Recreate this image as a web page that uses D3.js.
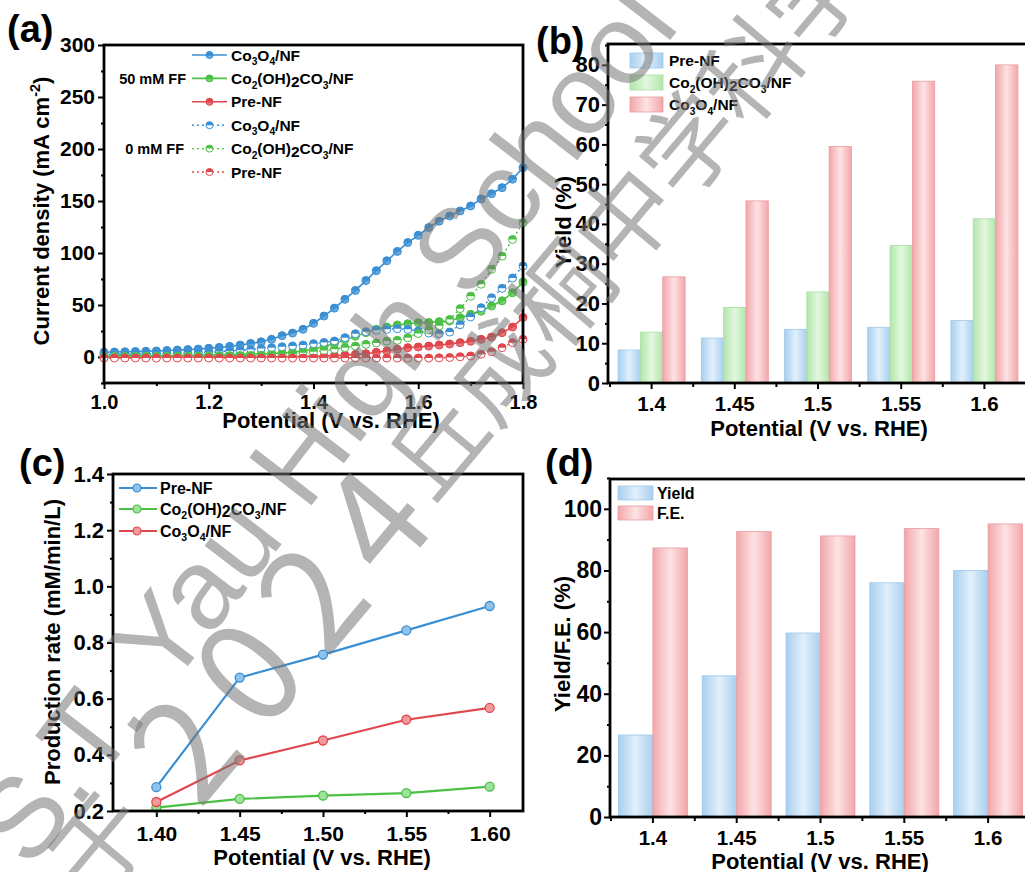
<!DOCTYPE html>
<html><head><meta charset="utf-8">
<script src="https://cdn.jsdelivr.net/npm/d3@7"></script>
<style>body{margin:0;background:#fff}svg{display:block}</style>
</head><body><svg id="c" width="1025" height="872"></svg>
<script>
// ---------- DATA ----------
const potentialA = [1.00,1.02,1.04,1.06,1.08,1.10,1.12,1.14,1.16,1.18,1.20,1.22,1.24,1.26,1.28,1.30,1.32,1.34,1.36,1.38,1.40,1.42,1.44,1.46,1.48,1.50,1.52,1.54,1.56,1.58,1.60,1.62,1.64,1.66,1.68,1.70,1.72,1.74,1.76,1.78,1.80];
const co3o4_50 = [4.5,4.8,5.0,5.2,5.5,5.8,6.2,6.7,7.1,7.6,8.4,9.2,10.2,11.5,13.0,14.6,17.0,20.5,23.0,26.6,32.4,39.4,47.0,55.5,64.0,73.5,83.0,92.5,101.5,110.0,117.0,124.5,130.5,135.6,140.4,145.2,152.0,157.0,162.8,171.0,182.0];
const co2oh_50 = [1.0,1.0,1.1,1.1,1.2,1.3,1.4,1.5,1.6,1.8,2.0,2.2,2.4,2.6,2.8,3.0,3.4,3.9,4.6,5.8,7.4,10.0,13.0,16.5,20.0,23.4,26.6,28.8,30.8,32.0,33.0,33.2,34.0,34.6,37.8,41.0,44.0,49.0,54.0,61.8,72.0];
const pre_50 = [0.0,0.0,0.0,0.0,0.0,0.0,0.0,0.0,0.0,0.0,0.1,0.1,0.1,0.2,0.2,0.2,0.3,0.3,0.4,0.5,0.6,0.8,1.2,1.8,2.5,3.2,4.5,5.8,7.5,9.0,9.6,10.5,11.5,12.5,13.8,15.2,17.0,19.2,23.4,28.8,38.0];
const co3o4_0 = [2.5,2.6,2.7,2.8,3.0,3.2,3.4,3.7,4.0,4.3,4.7,5.2,5.8,6.5,7.3,8.2,9.0,9.8,10.6,11.5,12.8,14.0,15.4,18.6,22.4,24.3,25.7,26.6,27.2,26.6,25.0,23.0,22.4,24.0,31.0,38.5,47.4,57.0,66.0,76.0,87.5];
const co2oh_0 = [0.5,0.5,0.6,0.6,0.7,0.7,0.8,0.8,0.9,1.0,1.1,1.2,1.3,1.4,1.5,1.7,2.0,2.4,3.0,4.0,5.0,6.2,7.5,9.0,10.5,12.2,13.5,15.4,16.0,18.5,22.5,26.0,30.0,36.0,46.5,58.5,70.0,84.3,97.0,113.0,129.0];
const pre_0 = [-1.0,-1.0,-1.0,-1.0,-1.0,-1.0,-1.0,-1.0,-1.0,-1.0,-1.0,-1.0,-1.0,-1.0,-1.0,-1.0,-1.0,-1.0,-1.0,-1.0,-1.0,-1.0,-1.0,-1.0,-1.0,-1.0,-1.0,-1.0,-1.0,-1.0,-1.0,-1.0,-0.8,-0.5,0.2,1.0,2.6,5.0,9.0,13.8,17.0];

const catsB = ["1.4","1.45","1.5","1.55","1.6"];
const yieldPre = [8.3,11.3,13.5,14.0,15.7];
const yieldCoh = [12.8,19.0,22.9,34.6,41.3];
const yieldCo3o4 = [26.7,45.8,59.5,75.9,80.0];

const potentialC = [1.40,1.45,1.50,1.55,1.60];
const ratePre = [0.285,0.675,0.757,0.843,0.930];
const rateCoh = [0.212,0.243,0.255,0.264,0.287];
const rateCo3o4 = [0.232,0.380,0.451,0.525,0.567];

const catsD = ["1.4","1.45","1.5","1.55","1.6"];
const yieldD = [26.6,45.8,59.7,76.0,80.0];
const feD = [87.3,92.6,91.2,93.6,95.1];

const ticksA_y = [0,50,100,150,200,250,300];
const ticksA_x = [1.0,1.2,1.4,1.6,1.8];
const ticksB_y = [0,10,20,30,40,50,60,70,80];
const ticksC_y = [0.2,0.4,0.6,0.8,1.0,1.2,1.4];
const ticksC_x = [1.40,1.45,1.50,1.55,1.60];
const ticksD_y = [0,20,40,60,80,100];

// ---------- SETUP ----------
const FONT = "Arial, 'Liberation Sans', sans-serif";
const svg = d3.select("#c");
const BLUE = "#3a8fd3", GREEN = "#4cbf45", RED = "#e0474c";

const defs = svg.append("defs");
function grad(id, edge, mid){
  const g = defs.append("linearGradient").attr("id",id).attr("x1",0).attr("x2",1).attr("y1",0).attr("y2",0);
  g.append("stop").attr("offset","0%").attr("stop-color",edge);
  g.append("stop").attr("offset","50%").attr("stop-color",mid);
  g.append("stop").attr("offset","100%").attr("stop-color",edge);
}
grad("gBlue","#a8cfef","#e2f0fb");
grad("gGreen","#b2e6ab","#e3f7df");
grad("gRed","#f2a6aa","#fde3e4");
const FILLS = {blue:"url(#gBlue)",green:"url(#gGreen)",red:"url(#gRed)"};
const STROKES = {blue:"#9fc8ea",green:"#a8e0a0",red:"#eb9ca1"};

function styleAxis(g, fs){
  g.select(".domain").remove();
  g.selectAll(".tick line").attr("stroke","#000").attr("stroke-width",2);
  g.selectAll(".tick text").attr("font-size",fs).attr("font-weight","bold").attr("fill","#000").attr("font-family",FONT);
}
function yAxis(scale, x, major, minor, fmt, fs, gap){
  svg.append("g").attr("transform",`translate(${x},0)`)
    .call(d3.axisLeft(scale).tickValues(minor).tickSize(3).tickFormat("")).call(g=>styleAxis(g,fs));
  svg.append("g").attr("transform",`translate(${x},0)`)
    .call(d3.axisLeft(scale).tickValues(major).tickSize(6).tickPadding(gap).tickFormat(fmt)).call(g=>styleAxis(g,fs));
}
function xAxisLinear(scale, y, major, minor, fmt, fs, base){
  svg.append("g").attr("transform",`translate(0,${y})`)
    .call(d3.axisBottom(scale).tickValues(minor).tickSize(3).tickFormat("")).call(g=>styleAxis(g,fs));
  const g = svg.append("g").attr("transform",`translate(0,${y})`)
    .call(d3.axisBottom(scale).tickValues(major).tickSize(6).tickFormat(fmt)).call(g=>styleAxis(g,fs));
  g.selectAll(".tick text").attr("dy",null).attr("y",base - y);
}
function xAxisBand(scale, y, fs, base){
  const g = svg.append("g").attr("transform",`translate(0,${y})`)
    .call(d3.axisBottom(scale).tickSize(6)).call(g=>styleAxis(g,fs));
  g.selectAll(".tick text").attr("dy",null).attr("y",base - y);
  const bounds = scale.domain().map(d=>scale(d)).concat([scale(scale.domain()[scale.domain().length-1])+scale.bandwidth()]);
  svg.append("g").selectAll("line").data(bounds).join("line")
    .attr("x1",d=>d).attr("x2",d=>d).attr("y1",y).attr("y2",y+4).attr("stroke","#000").attr("stroke-width",2);
}
function frame(x0,y0,x1,y1){
  svg.append("rect").attr("x",x0).attr("y",y0).attr("width",x1-x0).attr("height",y1-y0)
    .attr("fill","none").attr("stroke","#000").attr("stroke-width",2.8);
}
// rich text: tokens [text, mode] mode 0 normal, 1 sub, 2 sup, 3 lowered normal
function rich(sel, tokens, fs){
  let cur = 0;
  tokens.forEach(([t,m])=>{
    const target = m===1 ? 0.3*fs : m===2 ? -0.42*fs : m===3 ? 0.18*fs : 0;
    sel.append("tspan").text(t).attr("dy", target-cur).attr("font-size", (m===1||m===2)? fs*0.66 : fs);
    cur = target;
  });
}
function label(x,y,tokens,fs,anchor,rot){
  const t = svg.append("text").attr("font-family",FONT).attr("font-weight","bold").attr("font-size",fs)
    .attr("text-anchor",anchor||"start").attr("fill","#000")
    .attr("transform",`translate(${x},${y})` + (rot?` rotate(${rot})`:""));
  rich(t,tokens,fs);
  return t;
}
const T_CO3O4 = [["Co",0],["3",1],["O",0],["4",1],["/NF",0]];
const T_COH = [["Co",0],["2",1],["(OH)",0],["2",3],["CO",0],["3",1],["/NF",0]];
const T_PRE = [["Pre-NF",0]];
const halfTop = r => `M${-r},0 A${r},${r} 0 0 1 ${r},0 Z`;

// ---------- PANEL (a) ----------
{
  const x = d3.scaleLinear([1.0,1.8],[104,523]);
  const y = d3.scaleLinear([-25,300],[383,45]);
  yAxis(y,104,ticksA_y,[-25,25,75,125,175,225,275],d3.format("d"),21,3);
  xAxisLinear(x,383,ticksA_x,[1.1,1.3,1.5,1.7],d3.format(".1f"),20,409);
  const line = d3.line().x((d,i)=>x(potentialA[i])).y(d=>y(d));
  const solid = [[co3o4_50,BLUE],[co2oh_50,GREEN],[pre_50,RED]];
  const dotted = [[co3o4_0,BLUE],[co2oh_0,GREEN],[pre_0,RED]];
  solid.forEach(([s,c])=>{
    svg.append("path").attr("d",line(s)).attr("fill","none").attr("stroke",c).attr("stroke-width",1.6);
    const g = svg.append("g");
    g.selectAll("circle").data(s).join("circle").attr("cx",(d,i)=>x(potentialA[i])).attr("cy",d=>y(d))
      .attr("r",4).attr("fill",c).attr("fill-opacity",0.75).attr("stroke",c).attr("stroke-width",1);
    g.selectAll("path").data(s).join("path").attr("d",halfTop(4))
      .attr("transform",(d,i)=>`translate(${x(potentialA[i])},${y(d)})`).attr("fill",c);
  });
  dotted.forEach(([s,c])=>{
    svg.append("path").attr("d",line(s)).attr("fill","none").attr("stroke",c).attr("stroke-width",1.4).attr("stroke-dasharray","2,3");
    const g = svg.append("g");
    g.selectAll("circle").data(s).join("circle").attr("cx",(d,i)=>x(potentialA[i])).attr("cy",d=>y(d))
      .attr("r",4).attr("fill","#fff").attr("stroke",c).attr("stroke-width",1);
    g.selectAll("path").data(s).join("path").attr("d",halfTop(4))
      .attr("transform",(d,i)=>`translate(${x(potentialA[i])},${y(d)})`).attr("fill",c);
  });
  frame(104,45,523,383);
  const rows = [[T_CO3O4,BLUE,0],[T_COH,GREEN,0],[T_PRE,RED,0],[T_CO3O4,BLUE,1],[T_COH,GREEN,1],[T_PRE,RED,1]];
  const ly = d3.scaleLinear([0,5],[55,172]);
  rows.forEach(([tok,c,dash],i)=>{
    const yy = ly(i);
    svg.append("line").attr("x1",192).attr("x2",227).attr("y1",yy).attr("y2",yy).attr("stroke",c)
      .attr("stroke-width",dash?1.4:1.6).attr("stroke-dasharray",dash?"2,3":null);
    svg.append("circle").attr("cx",209.5).attr("cy",yy).attr("r",3.5).attr("fill",dash?"#fff":c).attr("fill-opacity",dash?1:0.75).attr("stroke",c);
    svg.append("path").attr("d",halfTop(3.5)).attr("transform",`translate(209.5,${yy})`).attr("fill",c);
    label(231,yy+5.5,tok,15.5);
  });
  label(186,ly(1)+5.5,[["50 mM FF",0]],14.5,"end");
  label(184,ly(4)+5.5,[["0 mM FF",0]],14.5,"end");
  label(49,211,[["Current density (mA cm",0],["-2",2],[")",0]],22,"middle",-90);
  label(331,428,[["Potential (V vs. RHE)",0]],22,"middle");
  label(7,42,[["(a)",0]],38);
}

// ---------- PANEL (b) ----------
{
  const x0 = d3.scaleBand(catsB,[610,1026]);
  const x1 = d3.scaleBand(["pre","coh","co3o4"],[-33.5,33.5]);
  const y = d3.scaleLinear([0,85],[383,45]);
  const series = [["pre",yieldPre,"blue"],["coh",yieldCoh,"green"],["co3o4",yieldCo3o4,"red"]];
  series.forEach(([k,vals,col])=>{
    svg.append("g").selectAll("rect").data(vals).join("rect")
      .attr("x",(d,i)=>x0(catsB[i])+x0.bandwidth()/2+x1(k)).attr("width",x1.bandwidth())
      .attr("y",d=>y(d)).attr("height",d=>y(0)-y(d))
      .attr("fill",FILLS[col]).attr("stroke",STROKES[col]).attr("stroke-width",0.8);
  });
  yAxis(y,608,ticksB_y,[5,15,25,35,45,55,65,75,85],d3.format("d"),22,2);
  xAxisBand(x0,383,20.5,411);
  frame(608,44,1030,383);
  const leg = [["Pre-NF",T_PRE,"blue"],["coh",T_COH,"green"],["co3o4",T_CO3O4,"red"]];
  const ly = d3.scaleLinear([0,2],[53,97]);
  leg.forEach(([k,tok,col],i)=>{
    svg.append("rect").attr("x",630).attr("y",ly(i)).attr("width",33).attr("height",15)
      .attr("fill",FILLS[col]).attr("stroke",STROKES[col]).attr("stroke-width",0.8);
    label(669,ly(i)+13,tok,15.5);
  });
  label(571,222,[["Yield (%)",0]],22,"middle",-90);
  label(819,436,[["Potential (V vs. RHE)",0]],22,"middle");
  label(536,54,[["(b)",0]],38);
}

// ---------- PANEL (c) ----------
{
  const x = d3.scaleLinear([1.374,1.62],[113,523]);
  const y = d3.scaleLinear([0.2,1.4],[811,474]);
  yAxis(y,113,ticksC_y,[0.3,0.5,0.7,0.9,1.1,1.3],d3.format(".1f"),22,3);
  xAxisLinear(x,811,ticksC_x,[1.425,1.475,1.525,1.575],d3.format(".2f"),21,841);
  const line = d3.line().x((d,i)=>x(potentialC[i])).y(d=>y(d));
  const series = [[ratePre,BLUE,"#8fc3ec"],[rateCoh,GREEN,"#9fe09a"],[rateCo3o4,RED,"#f09a9d"]];
  series.forEach(([s,c,lc])=>{
    svg.append("path").attr("d",line(s)).attr("fill","none").attr("stroke",c).attr("stroke-width",2.2);
    svg.append("g").selectAll("circle").data(s).join("circle")
      .attr("cx",(d,i)=>x(potentialC[i])).attr("cy",d=>y(d)).attr("r",4.5)
      .attr("fill",lc).attr("stroke",c).attr("stroke-width",1.3);
  });
  frame(113,474,523,811);
  const leg = [[T_PRE,BLUE,"#8fc3ec"],[T_COH,GREEN,"#9fe09a"],[T_CO3O4,RED,"#f09a9d"]];
  const ly = [488,509,531];
  leg.forEach(([tok,c,lc],i)=>{
    svg.append("line").attr("x1",119).attr("x2",157).attr("y1",ly[i]).attr("y2",ly[i]).attr("stroke",c).attr("stroke-width",2.2);
    svg.append("circle").attr("cx",137).attr("cy",ly[i]).attr("r",4).attr("fill",lc).attr("stroke",c).attr("stroke-width",1.2);
    label(160,ly[i]+5.5,tok,16);
  });
  label(60,642,[["Production rate (mM/min/L)",0]],22,"middle",-90);
  label(322,865,[["Potential (V vs. RHE)",0]],22,"middle");
  label(19,476,[["(c)",0]],38);
}

// ---------- PANEL (d) ----------
{
  const x0 = d3.scaleBand(catsD,[611,1030]);
  const x1 = d3.scaleBand(["yield","fe"],[-34.5,34.5]);
  const y = d3.scaleLinear([0,110],[817,478]);
  const series = [["yield",yieldD,"blue"],["fe",feD,"red"]];
  series.forEach(([k,vals,col])=>{
    svg.append("g").selectAll("rect").data(vals).join("rect")
      .attr("x",(d,i)=>x0(catsD[i])+x0.bandwidth()/2+x1(k)).attr("width",x1.bandwidth())
      .attr("y",d=>y(d)).attr("height",d=>y(0)-y(d))
      .attr("fill",FILLS[col]).attr("stroke",STROKES[col]).attr("stroke-width",0.8);
  });
  yAxis(y,610,ticksD_y,[10,30,50,70,90,110],d3.format("d"),23,2);
  xAxisBand(x0,817,20.5,845);
  frame(610,479,1030,817);
  const leg = [[[["Yield",0]],"blue"],[[["F.E.",0]],"red"]];
  const ly = [486,506];
  leg.forEach(([tok,col],i)=>{
    svg.append("rect").attr("x",618).attr("y",ly[i]).attr("width",35).attr("height",14)
      .attr("fill",FILLS[col]).attr("stroke",STROKES[col]).attr("stroke-width",0.8);
    label(657,ly[i]+12.5,tok,16);
  });
  label(570,644,[["Yield/F.E. (%)",0]],22,"middle",-90);
  label(820,869,[["Potential (V vs. RHE)",0]],22,"middle");
  label(545,476,[["(d)",0]],38);
}

// ---------- WATERMARK ----------
const wm = svg.append("g").attr("pointer-events","none").attr("fill","#777").attr("fill-opacity",0.55);
wm.append("text").attr("font-family","'Liberation Sans', Arial, sans-serif").attr("font-size",114)
  .attr("transform","translate(30,871) rotate(-52.4)").text("S.T. Yau High School");
const wm2 = wm.append("text").attr("font-family","'Noto Sans CJK SC', sans-serif").attr("font-size",98)
  .attr("transform","translate(97,905) rotate(-50)");
wm2.append("tspan").text("于");
[["2",40,18],["0",21,0],["2",21,0],["4",21,0]].forEach(([t,dx,dy])=>{
  wm2.append("tspan").attr("font-size",140).attr("dx",dx).attr("dy",dy).text(t);
});
wm2.append("tspan").attr("dx",10).attr("dy",-18).text("丘成桐中学科学奖");
</script></body></html>
